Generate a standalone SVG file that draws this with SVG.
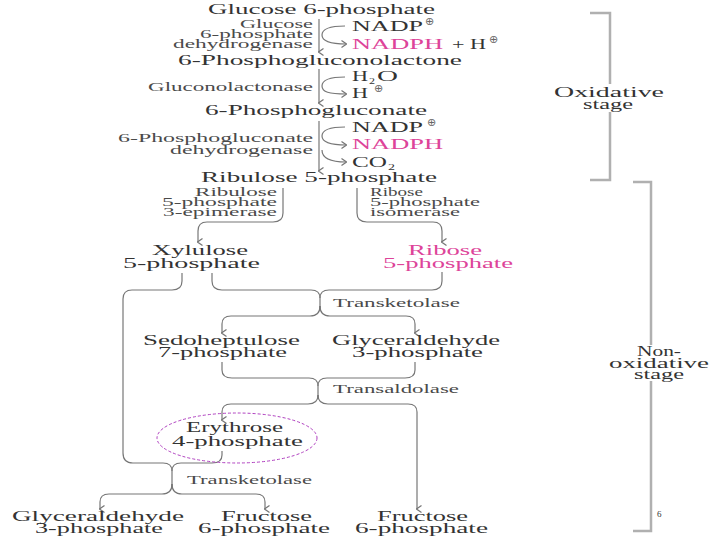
<svg xmlns="http://www.w3.org/2000/svg" width="720" height="540" viewBox="0 0 720 540">
<style>
text{font-family:"Liberation Serif","Times New Roman",serif;fill:#333}
.m{font-size:15px}
.e{font-size:11.5px;fill:#4a4a4a}
.c{font-size:14px}
.p{fill:#dd4499}
.o{font-family:"DejaVu Sans",sans-serif;font-size:11px;fill:#666}
.s{font-size:14.5px;fill:#333}
.ln{fill:none;stroke:#777;stroke-width:1.2}
.ar{fill:none;stroke:#777;stroke-width:1.2;marker-end:url(#ah)}
.br{fill:none;stroke:#b0b0b0;stroke-width:2.5}
</style>
<defs>
<marker id="ah" viewBox="0 0 8 8" refX="4" refY="7" markerWidth="8" markerHeight="8" orient="auto-start-reverse" markerUnits="userSpaceOnUse">
<path d="M0.5,2.5 L4,7.5 L7.5,2.5" fill="none" stroke="#777" stroke-width="1.2"/>
</marker>
<marker id="ah2" viewBox="0 0 8 8" refX="7" refY="4" markerWidth="8" markerHeight="8" orient="auto" markerUnits="userSpaceOnUse">
<path d="M2.5,0.5 L7.5,4 L2.5,7.5" fill="none" stroke="#777" stroke-width="1.2"/>
</marker>
</defs>
<rect width="720" height="540" fill="#fff"/>

<g id="connectors">
<path class="ar" d="M319,19 V52"/>
<path class="ar" d="M319,69 V103"/>
<path class="ar" d="M319,121 V171"/>
<path class="ln" d="M345,26 C329,26 322,29 322,35 C322,41 329,44 346,44" marker-end="url(#ah2)"/>
<path class="ln" d="M345,77 C329,77 322,80 322,86 C322,92 329,94 346,94" marker-end="url(#ah2)"/>
<path class="ln" d="M345,127 C329,127 322,130 322,136 C322,142 329,145 346,145" marker-end="url(#ah2)"/>
<path class="ln" d="M322,150 C322,157 329,162 346,162" marker-end="url(#ah2)"/>

<path class="ar" d="M283,188 V213 Q283,222 273,222 H207 Q198,222 198,231 V242"/>
<path class="ar" d="M357,188 V213 Q357,222 367,222 H433 Q442,222 442,231 V242"/>

<path class="ln" d="M212,273 V281 Q212,290 222,290 H311 Q320,290 320,298 V308"/>
<path class="ln" d="M442,272 V281 Q442,290 432,290 H329 Q320,290 320,298"/>
<path class="ar" d="M320,306 Q320,316 310,316 H231 Q222,316 222,324 V333"/>
<path class="ar" d="M320,306 Q320,316 330,316 H406 Q415,316 415,324 V333"/>

<path class="ln" d="M222,362 V370 Q222,378 232,378 H309 Q318,378 318,386 V397"/>
<path class="ln" d="M415,362 V370 Q415,378 405,378 H327 Q318,378 318,386"/>
<path class="ar" d="M318,395 Q318,404 308,404 H231 Q222,404 222,412 V420"/>
<path class="ar" d="M318,395 Q318,404 328,404 H408 Q417,404 417,412 V509"/>

<path class="ln" d="M182,273 V281 Q182,290 172,290 H132 Q123,290 123,299 V453 Q123,463 133,463 H163 Q172,463 172,471 V486"/>
<path class="ln" d="M222,451 V455 Q222,463 212,463 H181 Q172,463 172,471"/>
<path class="ar" d="M172,484 Q172,494 162,494 H109 Q100,494 100,502 V509"/>
<path class="ar" d="M172,484 Q172,494 182,494 H256 Q265,494 265,502 V509"/>
</g>

<g id="brackets">
<path class="br" d="M590,13 H610 V84 M610,112 V180 H590"/>
<path class="br" d="M633,182 H651 V345 M651,381 V531 H633"/>
</g>

<g id="glucose6p"><text class="m" x="208" y="14" textLength="227" lengthAdjust="spacingAndGlyphs">Glucose 6-phosphate</text></g>
<g id="enz-g6pdh">
<text class="e" x="240" y="28" textLength="73" lengthAdjust="spacingAndGlyphs">Glucose</text>
<text class="e" x="200" y="38" textLength="113" lengthAdjust="spacingAndGlyphs">6-phosphate</text>
<text class="e" x="173" y="48" textLength="140" lengthAdjust="spacingAndGlyphs">dehydrogenase</text>
</g>
<g id="nadp1"><text class="c" x="352" y="31" textLength="71" lengthAdjust="spacingAndGlyphs">NADP</text><text class="o" x="425" y="25">⊕</text></g>
<g id="nadph1"><text class="c p" x="352" y="49" textLength="91" lengthAdjust="spacingAndGlyphs">NADPH</text><text class="c" x="452" y="49" textLength="34" lengthAdjust="spacingAndGlyphs">+ H</text><text class="o" x="489" y="43">⊕</text></g>
<g id="lactone"><text class="m" x="178" y="65" textLength="284" lengthAdjust="spacingAndGlyphs">6-Phosphogluconolactone</text></g>
<g id="enz-lactonase"><text class="e" x="148" y="91" textLength="165" lengthAdjust="spacingAndGlyphs">Gluconolactonase</text></g>
<g id="h2o"><text class="c"><tspan x="352" y="81" textLength="16" lengthAdjust="spacingAndGlyphs">H</tspan><tspan x="369" y="84" font-size="9" textLength="6" lengthAdjust="spacingAndGlyphs">2</tspan><tspan x="377" y="81" textLength="21" lengthAdjust="spacingAndGlyphs">O</tspan></text></g>
<g id="hplus"><text class="c" x="352" y="98" textLength="16" lengthAdjust="spacingAndGlyphs">H</text><text class="o" x="374" y="92">⊕</text></g>
<g id="gluconate"><text class="m" x="205" y="115" textLength="222" lengthAdjust="spacingAndGlyphs">6-Phosphogluconate</text></g>
<g id="enz-6pgdh">
<text class="e" x="118" y="142" textLength="195" lengthAdjust="spacingAndGlyphs">6-Phosphogluconate</text>
<text class="e" x="170" y="154" textLength="143" lengthAdjust="spacingAndGlyphs">dehydrogenase</text>
</g>
<g id="nadp2"><text class="c" x="352" y="132" textLength="71" lengthAdjust="spacingAndGlyphs">NADP</text><text class="o" x="427" y="126">⊕</text></g>
<g id="nadph2"><text class="c p" x="352" y="149" textLength="91" lengthAdjust="spacingAndGlyphs">NADPH</text></g>
<g id="co2"><text class="c"><tspan x="352" y="167" textLength="35" lengthAdjust="spacingAndGlyphs">CO</tspan><tspan x="388" y="170" font-size="9" textLength="7" lengthAdjust="spacingAndGlyphs">2</tspan></text></g>
<g id="ribulose5p"><text class="m" x="201" y="182" textLength="236" lengthAdjust="spacingAndGlyphs">Ribulose 5-phosphate</text></g>

<g id="enz-epimerase">
<text class="e" x="195" y="196" textLength="82" lengthAdjust="spacingAndGlyphs">Ribulose</text>
<text class="e" x="162" y="206" textLength="115" lengthAdjust="spacingAndGlyphs">5-phosphate</text>
<text class="e" x="163" y="216" textLength="114" lengthAdjust="spacingAndGlyphs">3-epimerase</text>
</g>
<g id="enz-isomerase">
<text class="e" x="370" y="196" textLength="53" lengthAdjust="spacingAndGlyphs">Ribose</text>
<text class="e" x="370" y="206" textLength="110" lengthAdjust="spacingAndGlyphs">5-phosphate</text>
<text class="e" x="370" y="216" textLength="90" lengthAdjust="spacingAndGlyphs">isomerase</text>
</g>
<g id="xylulose5p">
<text class="m" x="152" y="255" textLength="96" lengthAdjust="spacingAndGlyphs">Xylulose</text>
<text class="m" x="123" y="268" textLength="137" lengthAdjust="spacingAndGlyphs">5-phosphate</text>
</g>
<g id="ribose5p">
<text class="m p" x="408" y="255" textLength="74" lengthAdjust="spacingAndGlyphs">Ribose</text>
<text class="m p" x="383" y="268" textLength="130" lengthAdjust="spacingAndGlyphs">5-phosphate</text>
</g>
<g id="enz-transketolase1"><text class="e" x="333" y="307" textLength="127" lengthAdjust="spacingAndGlyphs">Transketolase</text></g>
<g id="sedoheptulose7p">
<text class="m" x="143" y="345" textLength="157" lengthAdjust="spacingAndGlyphs">Sedoheptulose</text>
<text class="m" x="158" y="357" textLength="129" lengthAdjust="spacingAndGlyphs">7-phosphate</text>
</g>
<g id="glyceraldehyde3p-1">
<text class="m" x="332" y="345" textLength="168" lengthAdjust="spacingAndGlyphs">Glyceraldehyde</text>
<text class="m" x="352" y="357" textLength="131" lengthAdjust="spacingAndGlyphs">3-phosphate</text>
</g>
<g id="enz-transaldolase"><text class="e" x="333" y="393" textLength="126" lengthAdjust="spacingAndGlyphs">Transaldolase</text></g>
<g id="erythrose4p">
<ellipse cx="237" cy="438" rx="80" ry="25" fill="none" stroke="#b040c0" stroke-width="1" stroke-dasharray="3,2"/>
<text class="m" x="186" y="432" textLength="97" lengthAdjust="spacingAndGlyphs">Erythrose</text>
<text class="m" x="172" y="446" textLength="131" lengthAdjust="spacingAndGlyphs">4-phosphate</text>
</g>
<g id="enz-transketolase2"><text class="e" x="187" y="484" textLength="125" lengthAdjust="spacingAndGlyphs">Transketolase</text></g>
<g id="glyceraldehyde3p-2">
<text class="m" x="12" y="521" textLength="172" lengthAdjust="spacingAndGlyphs">Glyceraldehyde</text>
<text class="m" x="35" y="533" textLength="128" lengthAdjust="spacingAndGlyphs">3-phosphate</text>
</g>
<g id="fructose6p-1">
<text class="m" x="221" y="521" textLength="91" lengthAdjust="spacingAndGlyphs">Fructose</text>
<text class="m" x="198" y="533" textLength="132" lengthAdjust="spacingAndGlyphs">6-phosphate</text>
</g>
<g id="fructose6p-2">
<text class="m" x="377" y="521" textLength="91" lengthAdjust="spacingAndGlyphs">Fructose</text>
<text class="m" x="355" y="533" textLength="133" lengthAdjust="spacingAndGlyphs">6-phosphate</text>
</g>

<g id="label-oxidative">
<text class="s" x="554" y="97" textLength="110" lengthAdjust="spacingAndGlyphs">Oxidative</text>
<text class="s" x="583" y="109" textLength="50" lengthAdjust="spacingAndGlyphs">stage</text>
</g>
<g id="label-nonoxidative">
<text class="s" x="637" y="356" textLength="44" lengthAdjust="spacingAndGlyphs">Non-</text>
<text class="s" x="609" y="368" textLength="100" lengthAdjust="spacingAndGlyphs">oxidative</text>
<text class="s" x="634" y="379" textLength="50" lengthAdjust="spacingAndGlyphs">stage</text>
</g>
<g id="page-number"><text x="657" y="517" font-family="Liberation Sans,Arial,sans-serif" font-size="9" fill="#666">6</text></g>
</svg>
